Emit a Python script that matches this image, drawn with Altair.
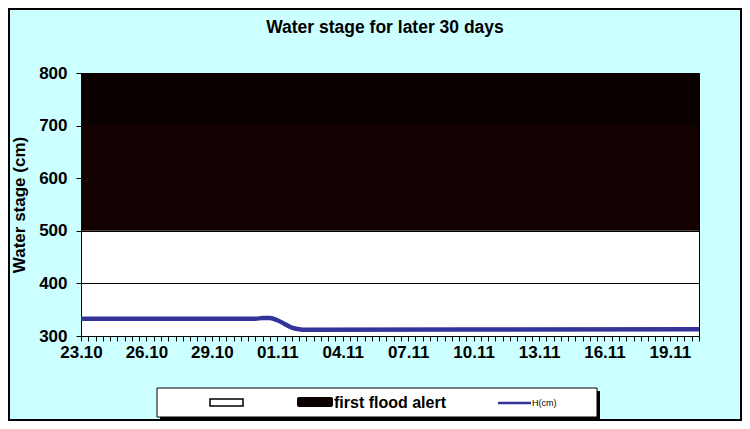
import altair as alt
import pandas as pd

# ---- data ----
hours = [0, 192, 200, 208, 216, 224, 232, 240, 248, 680]
stage = [333, 333, 334, 334, 330, 323, 316, 313, 312, 313]

band_lo = [500, 700]
band_hi = [800, 800]
band_name = ["first flood alert", "first flood alert top"]
band_color = ["#140101", "#0a0000"]

x_label_hours = [0, 72, 144, 216, 288, 360, 432, 504, 576, 648]
x_labels = ["23.10", "26.10", "29.10", "01.11", "04.11", "07.11",
            "10.11", "13.11", "16.11", "19.11"]
x_tick_hours = list(range(0, 681, 8))
y_ticks = [300, 400, 500, 600, 700, 800]

chart_title = "Water stage for later 30 days"
legend_labels = ["first flood alert", "H(cm)"]

FONT = "Liberation Sans"
W, H = 618, 263
TOTAL_W, TOTAL_H = 734, 413
PAD_L, PAD_T = 73, 65

line_df = pd.DataFrame({"h": hours, "v": stage})
band_df = pd.DataFrame({"x0": [0] * len(band_lo), "x1": [680] * len(band_lo),
                        "lo": band_lo, "hi": band_hi, "name": band_name, "c": band_color})
one = pd.DataFrame({"k": [0]})

hrs_js = "[" + ",".join(str(h) for h in x_label_hours) + "]"
lab_js = "[" + ",".join("'" + s + "'" for s in x_labels) + "]"
label_expr = f"indexof({hrs_js}, datum.value) >= 0 ? {lab_js}[indexof({hrs_js}, datum.value)] : ''"

xscale = alt.Scale(domain=[0, 680], nice=False, zero=False)
yscale = alt.Scale(domain=[300, 800], nice=False, zero=False)

xaxis = alt.Axis(values=x_tick_hours, labelExpr=label_expr, labelOverlap=False,
                 labelFlush=False, grid=False, tickSize=5, tickColor="black",
                 domainColor="black", labelFont=FONT, labelFontSize=17,
                 labelFontWeight="bold", labelColor="black", labelPadding=3, title="")
yaxis = alt.Axis(values=y_ticks, grid=True, gridColor="black", gridWidth=1,
                 tickSize=5, tickColor="black", domainColor="black",
                 labelFont=FONT, labelFontSize=17, labelFontWeight="bold",
                 labelColor="black", labelPadding=9,
                 title="Water stage (cm)", titleFont=FONT, titleFontSize=17,
                 titleFontWeight="bold", titleColor="black", titlePadding=10)

bands = alt.Chart(band_df).mark_rect().encode(
    x=alt.X("x0:Q", scale=xscale, axis=xaxis),
    x2="x1:Q",
    y=alt.Y("lo:Q", scale=yscale, axis=yaxis),
    y2="hi:Q",
    color=alt.Color("c:N", scale=None),
    order=alt.Order("lo:Q"),
)

line = alt.Chart(line_df).mark_line(color="#333399", strokeWidth=4.5,
                                    interpolate="monotone").encode(
    x=alt.X("h:Q", scale=xscale, axis=xaxis),
    y=alt.Y("v:Q", scale=yscale, axis=yaxis),
)

def box(x1, x2, y1, y2, **kw):
    return alt.Chart(one).mark_rect(**kw).encode(
        x=alt.value(x1), x2=alt.value(x2), y=alt.value(y1), y2=alt.value(y2))

outer = box(-PAD_L + 1, TOTAL_W - PAD_L - 1, -PAD_T + 1, TOTAL_H - PAD_T - 1,
            fill="transparent", stroke="black", strokeWidth=2)

title_txt = alt.Chart(one).mark_text(text=chart_title, font=FONT, fontSize=17.5,
                                     fontWeight="bold", align="center",
                                     baseline="alphabetic", color="black").encode(
    x=alt.value(304), y=alt.value(-40))

leg_shadow = box(79, 519, 318, 347, fill="black")
leg_box = box(76, 516, 315, 344, fill="white", stroke="black", strokeWidth=1)
leg_white = box(129, 162, 326, 333, fill="white", stroke="black", strokeWidth=1.5)
leg_black = box(216, 252, 324, 334, fill="#0b0000", cornerRadius=2)
leg_line = alt.Chart(one).mark_rule(color="#333399", strokeWidth=2.5).encode(
    x=alt.value(417), x2=alt.value(450), y=alt.value(330))
leg_txt1 = alt.Chart(one).mark_text(text=legend_labels[0], font=FONT, fontSize=16,
                                    fontWeight="bold", align="left",
                                    baseline="alphabetic", color="black").encode(
    x=alt.value(253), y=alt.value(335))
leg_txt2 = alt.Chart(one).mark_text(text=legend_labels[1], font=FONT, fontSize=9,
                                    align="left", baseline="alphabetic",
                                    color="black").encode(
    x=alt.value(451), y=alt.value(333))

chart = alt.layer(
    bands, line, title_txt, leg_shadow, leg_box, leg_white, leg_black, leg_line,
    leg_txt1, leg_txt2, outer
).properties(
    width=W, height=H,
    autosize=alt.AutoSizeParams(type="none"),
    padding={"left": PAD_L, "top": PAD_T, "right": TOTAL_W - PAD_L - W,
             "bottom": TOTAL_H - PAD_T - H},
    background="#ccffff",
).configure_view(fill="white", stroke="black", strokeWidth=1)

chart.save("out.html", embed_options={"renderer": "svg", "actions": False})
